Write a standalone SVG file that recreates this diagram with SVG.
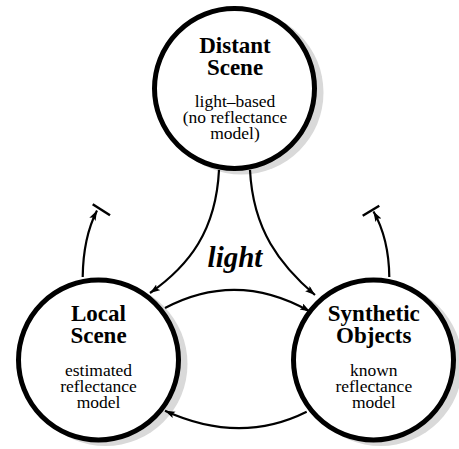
<svg xmlns="http://www.w3.org/2000/svg" width="459" height="449" viewBox="0 0 459 449">
<defs>
<marker id="arr" markerUnits="userSpaceOnUse" markerWidth="12" markerHeight="8" refX="10" refY="3.5" orient="auto">
<path d="M0,0 L10,3.5 L0,7 L2,3.5 z" fill="#000"/>
</marker>
</defs>
<style>
.shadow{fill:#d9d9d9;stroke:none}
.node{fill:#fff;stroke:#000;stroke-width:5}
.title{font-family:"Liberation Serif",serif;font-weight:bold;font-size:23px;text-anchor:middle;fill:#000}
.desc{font-family:"Liberation Serif",serif;font-size:17.5px;text-anchor:middle;fill:#000}
.edge{fill:none;stroke:#000;stroke-width:2.2;marker-end:url(#arr)}
.bar{stroke:#000;stroke-width:2.5;fill:none}
.lbl{font-family:"Liberation Serif",serif;font-weight:bold;font-style:italic;font-size:29px;text-anchor:middle;fill:#000}
</style>
<rect width="459" height="449" fill="#fff"/>
<g id="distant">
<circle class="shadow" cx="241.5" cy="92.5" r="82"/>
<circle class="node" cx="234.5" cy="88.5" r="80"/>
<text class="title" x="235" y="52.5">Distant</text>
<text class="title" x="235" y="75">Scene</text>
<text class="desc" x="235" y="107.3">light–based</text>
<text class="desc" x="235" y="123.3">(no reflectance</text>
<text class="desc" x="235" y="139.3">model)</text>
</g>
<g id="local">
<circle class="shadow" cx="105.5" cy="364" r="82"/>
<circle class="node" cx="98.5" cy="360" r="80"/>
<text class="title" x="98.5" y="320.7">Local</text>
<text class="title" x="98.5" y="343.3">Scene</text>
<text class="desc" x="98.5" y="375.5">estimated</text>
<text class="desc" x="98.5" y="391.8">reflectance</text>
<text class="desc" x="98.5" y="408.3">model</text>
</g>
<g id="synthetic">
<circle class="shadow" cx="380.5" cy="364" r="82"/>
<circle class="node" cx="373.5" cy="360" r="80"/>
<text class="title" x="373.8" y="320.7">Synthetic</text>
<text class="title" x="373.8" y="343.3">Objects</text>
<text class="desc" x="373.8" y="375.5">known</text>
<text class="desc" x="373.8" y="391.8">reflectance</text>
<text class="desc" x="373.8" y="408.3">model</text>
</g>
<g id="connectors">
<path class="edge" d="M219,170 C216,230 190,265 150,293"/>
<path class="edge" d="M250,170 C253,230 280,265 315,295"/>
<path class="edge" d="M165,308 Q237,270 310,311.5"/>
<path class="edge" d="M306.7,411.7 Q240,445 165,410.7"/>
<path class="edge" d="M82.7,277 C83,250 87,230 97,210.5"/>
<line class="bar" x1="92.7" y1="204.3" x2="110" y2="215.3"/>
<path class="edge" d="M389.3,277 C389,250 384,230 373.5,211.5"/>
<line class="bar" x1="362.7" y1="215.7" x2="379.3" y2="205.7"/>
<text class="lbl" x="235" y="267">light</text>
</g>
</svg>
